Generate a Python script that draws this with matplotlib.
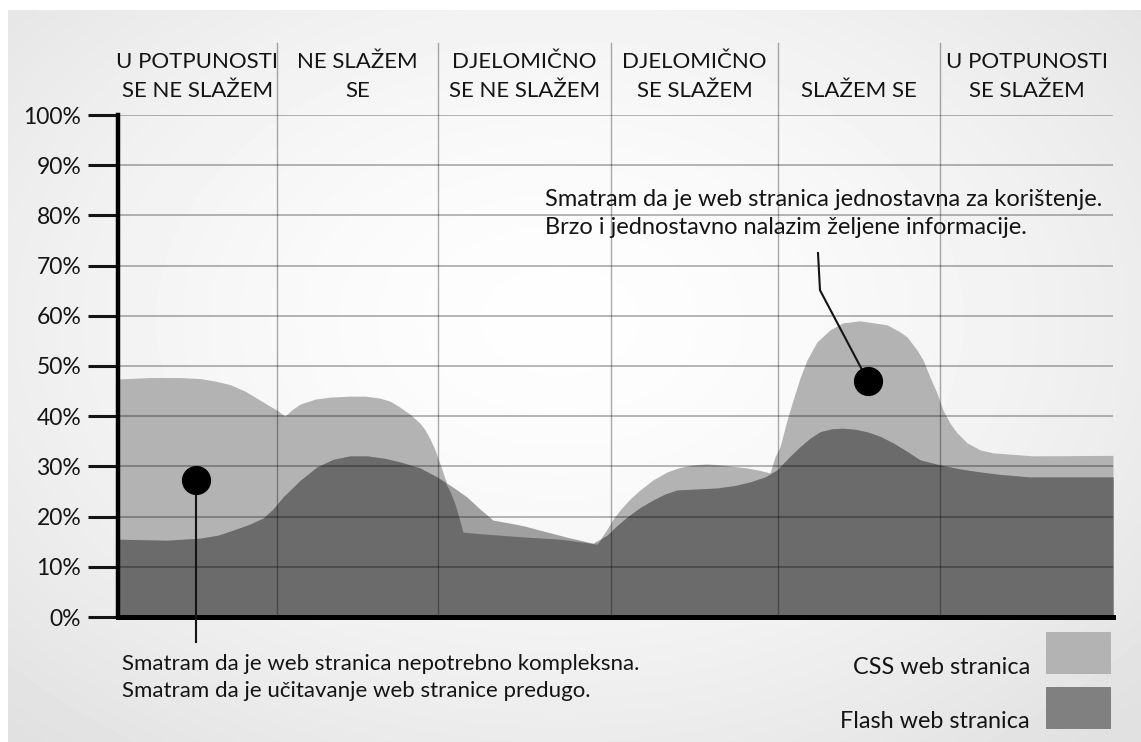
import numpy as np
import matplotlib.pyplot as plt
from matplotlib.patches import Rectangle

plt.rcParams['font.family'] = ['Lato', 'DejaVu Sans']

W, H = 1141, 742

# column headers (answers on the agreement scale)
headers = ["U POTPUNOSTI\nSE NE SLAŽEM", "NE SLAŽEM\nSE", "DJELOMIČNO\nSE NE SLAŽEM",
           "DJELOMIČNO\nSE SLAŽEM", "SLAŽEM SE", "U POTPUNOSTI\nSE SLAŽEM"]
col_edges = [0, 159, 320, 493, 660, 822, 995]

y_ticks = list(range(0, 101, 10))
y_labels = [f"{v}%" for v in y_ticks]

# CSS site, share of answers along the scale
css_x = [0, 32, 62, 82, 97, 112, 127, 142, 152, 159, 167, 174, 182, 197, 212,
         232, 247, 262, 272, 282, 292, 302, 307, 312, 317, 322, 327, 332, 337,
         340, 345, 362, 402, 442, 462, 479, 484, 489, 495, 502, 512, 522, 535,
         549, 562, 575, 589, 602, 615, 629, 642, 652, 657, 662, 669, 675, 682,
         689, 699, 712, 725, 742, 769, 782, 789, 799, 805, 812, 819, 825, 832,
         839, 849, 862, 875, 915, 995]
css_y = [47.4, 47.7, 47.7, 47.5, 47.0, 46.3, 45.0, 43.2, 42.0, 41.2, 40.0, 41.3,
         42.4, 43.4, 43.8, 44.0, 44.0, 43.6, 43.0, 41.8, 40.4, 38.6, 37.3, 35.5,
         33.3, 30.5, 27.6, 25.0, 22.5, 20.5, 16.9, 16.6, 16.0, 15.5, 15.0, 14.5,
         16.0, 17.5, 19.5, 21.3, 23.5, 25.3, 27.3, 28.9, 29.8, 30.3, 30.5, 30.3,
         30.0, 29.7, 29.2, 28.7, 31.9, 33.9, 39.2, 43.2, 47.6, 51.2, 54.8, 57.2,
         58.6, 59.0, 58.2, 56.8, 55.8, 53.2, 51.2, 47.8, 44.6, 41.2, 38.6, 36.7,
         34.7, 33.3, 32.7, 32.1, 32.2]

# Flash site
flash_x = [0, 49, 82, 100, 115, 132, 145, 155, 165, 182, 199, 215, 232, 249, 267,
           282, 302, 319, 334, 349, 362, 375, 392, 407, 422, 449, 475, 489, 499,
           509, 522, 535, 547, 559, 579, 599, 617, 632, 647, 659, 672, 682, 692,
           702, 714, 725, 737, 749, 762, 775, 789, 802, 822, 842, 862, 882, 912,
           995]
flash_y = [15.5, 15.3, 15.7, 16.3, 17.3, 18.5, 19.7, 21.5, 23.9, 27.2, 29.9, 31.4,
           32.1, 32.1, 31.6, 30.9, 29.7, 27.9, 26.0, 23.9, 21.5, 19.3, 18.7, 18.1,
           17.3, 15.9, 14.7, 16.3, 18.2, 19.9, 21.8, 23.3, 24.5, 25.3, 25.5, 25.7,
           26.2, 26.9, 27.9, 29.3, 32.0, 33.9, 35.6, 36.9, 37.5, 37.6, 37.4, 36.9,
           36.0, 34.7, 33.0, 31.3, 30.3, 29.5, 28.9, 28.4, 27.9, 27.9]

legend_names = ["CSS web stranica", "Flash web stranica"]
note_low = "Smatram da je web stranica nepotrebno kompleksna.\nSmatram da je učitavanje web stranice predugo."
note_high = "Smatram da je web stranica jednostavna za korištenje.\nBrzo i jednostavno nalazim željene informacije."

c_css = "#b3b3b3"
c_flash = "#a0a0a0"
c_both = "#6b6b6b"
c_legend_flash = "#808080"
ink = "#141414"


def fx(px):
    return px / W


def fy(py):
    return 1 - py / H


fig = plt.figure(figsize=(W / 100, H / 100), dpi=100)
fig.patch.set_facecolor("white")

# soft radial background panel
bg = fig.add_axes([fx(8), 0, 1 - fx(8), fy(10)])
gx, gy = np.meshgrid(np.linspace(8, W, 300), np.linspace(10, H, 200))
r = np.sqrt(((gx - 560) / 620) ** 2 + ((gy - 320) / 430) ** 2)
shade = 0.995 - 0.075 * np.clip(r, 0, 1.3) ** 1.6
bg.imshow(shade, cmap="gray", vmin=0, vmax=1, aspect="auto", interpolation="bilinear")
bg.axis("off")

ax = fig.add_axes([fx(118), fy(617), fx(1113 - 118), (617 - 115) / H])
ax.set_xlim(0, 995)
ax.set_ylim(0, 100)
ax.patch.set_visible(False)

# both series on a common x grid, the overlap drawn darker
xs = np.union1d(css_x, flash_x)
cs = np.interp(xs, css_x, css_y)
fl = np.interp(xs, flash_x, flash_y)
ax.fill_between(xs, 0, cs, color=c_css, lw=0, zorder=1)
ax.fill_between(xs, 0, fl, color=c_flash, lw=0, zorder=1)
ax.fill_between(xs, 0, np.minimum(cs, fl), color=c_both, lw=0, zorder=2)

# grid on top of the areas
for v in y_ticks[1:]:
    ax.axhline(v, color="black", alpha=0.33, lw=1.2, zorder=3)
for e in col_edges[1:-1]:
    ax.plot([e, e], [0, 114.3], color="black", alpha=0.33, lw=1.0, zorder=3, clip_on=False)

for s in ["top", "right"]:
    ax.spines[s].set_visible(False)
ax.spines["left"].set_linewidth(3.2)
ax.spines["bottom"].set_linewidth(3.6)
ax.spines["left"].set_zorder(5)
ax.spines["bottom"].set_zorder(5)
ax.set_xticks([])
ax.set_yticks(y_ticks)
ax.set_yticklabels(y_labels, fontsize=16.5, color=ink)
ax.tick_params(axis="y", length=21.5, width=2.2, pad=5.0, color=ink)

for i, h in enumerate(headers):
    cx = (col_edges[i] + col_edges[i + 1]) / 2
    ax.text(cx, 1.028, h, transform=ax.get_xaxis_transform(),
            ha="center", va="bottom", fontsize=16, color=ink, linespacing=1.53)

# callout for the low end
ax.plot([78, 78], [27.3, -5.0], color=ink, lw=1.5, zorder=6, clip_on=False)
ax.plot([78], [27.3], "o", ms=20, color="black", zorder=7, clip_on=False)
ax.text(4, -12.0, note_low, ha="left", va="center", fontsize=16, color=ink,
        linespacing=1.45, clip_on=False)

# callout for the high end
ax.plot([750, 702, 700], [47.0, 65.1, 72.5], color=ink, lw=1.5, zorder=6)
ax.plot([750], [47.0], "o", ms=20, color="black", zorder=7)
ax.text(427, 80.3, note_high, ha="left", va="center", fontsize=17, color=ink,
        linespacing=1.42, zorder=8)

# legend boxes
for name, col, top in zip(legend_names, [c_css, c_legend_flash], [632, 687]):
    fig.patches.append(Rectangle((fx(1046), fy(top + 42)), fx(65), 42 / H,
                                 transform=fig.transFigure, facecolor=col, edgecolor="none"))
    fig.text(fx(1030), fy(top + 35), name, ha="right", va="center", fontsize=16.8, color=ink)

fig.savefig("out.png", dpi=100)
